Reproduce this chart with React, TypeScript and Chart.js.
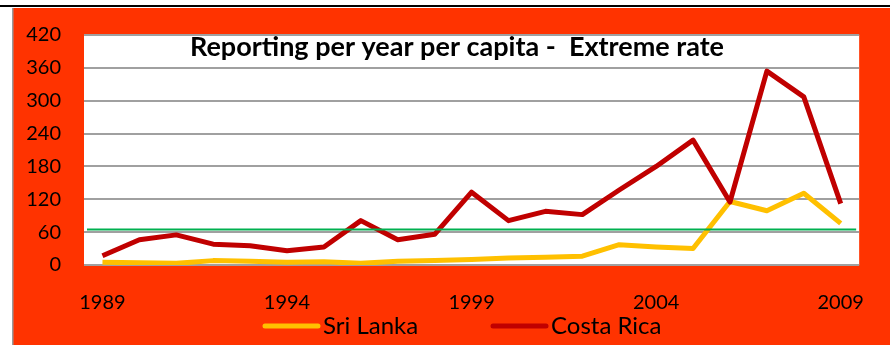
import React, { useEffect, useRef } from "react";
import { Chart, registerables } from "chart.js";

Chart.register(...registerables);

const years: string[] = [
  "1989", "1990", "1991", "1992", "1993", "1994", "1995", "1996", "1997", "1998",
  "1999", "2000", "2001", "2002", "2003", "2004", "2005", "2006", "2007", "2008", "2009",
];
const sriLanka: number[] = [5, 4, 3, 8, 7, 5, 6, 3, 7, 8, 10, 13, 14, 16, 37, 33, 30, 116, 99, 131, 76];
const costaRica: number[] = [17, 46, 55, 38, 35, 26, 33, 81, 46, 56, 133, 81, 98, 92, 137, 180, 228, 115, 354, 307, 112];
const yTicks: number[] = [0, 60, 120, 180, 240, 300, 360, 420];
const thresholdValue = 65;
const titleText = "Reporting per year per capita -  Extreme rate";

const ORANGE = "#FF3300";
const FONT = "Lato, 'Open Sans', sans-serif";

export default function App() {
  const ref = useRef<HTMLCanvasElement | null>(null);

  useEffect(() => {
    document.body.style.margin = "0";
    const canvas = ref.current!;
    const bgPlugin = {
      id: "bg",
      beforeDraw(chart: any) {
        const { ctx, width, height, chartArea } = chart;
        ctx.save();
        ctx.fillStyle = "#FFFFFF";
        ctx.fillRect(0, 0, width, height);
        ctx.fillStyle = "#000000";
        ctx.fillRect(0, 5, width, 2);
        ctx.fillStyle = ORANGE;
        ctx.fillRect(12, 8, width - 12, height - 8);
        ctx.fillStyle = "#9A9A9A";
        ctx.fillRect(12, 8, 1.5, height - 8);
        ctx.fillStyle = "#FFFFFF";
        ctx.fillRect(chartArea.left, chartArea.top, chartArea.right - chartArea.left, chartArea.bottom - chartArea.top);
        ctx.restore();
      },
      afterDatasetsDraw(chart: any) {
        const { ctx, chartArea, scales } = chart;
        const y = scales.y.getPixelForValue(thresholdValue);
        ctx.save();
        ctx.strokeStyle = "#00B050";
        ctx.lineWidth = 2;
        ctx.beginPath();
        ctx.moveTo(chartArea.left + 3, y);
        ctx.lineTo(chartArea.right - 3, y);
        ctx.stroke();
        ctx.restore();
      },
      afterDraw(chart: any) {
        const { ctx } = chart;
        ctx.save();
        ctx.fillStyle = "#000000";
        ctx.font = `bold 27px ${FONT}`;
        ctx.textAlign = "center";
        ctx.textBaseline = "middle";
        ctx.fillText(titleText, 457, 47);
        // legend
        const items = [
          { label: chart.data.datasets[0].label, color: chart.data.datasets[0].borderColor, x: 265 },
          { label: chart.data.datasets[1].label, color: chart.data.datasets[1].borderColor, x: 493 },
        ];
        ctx.font = `24px ${FONT}`;
        ctx.textAlign = "left";
        for (const it of items) {
          ctx.strokeStyle = it.color;
          ctx.lineWidth = 5;
          ctx.lineCap = "round";
          ctx.beginPath();
          ctx.moveTo(it.x, 326);
          ctx.lineTo(it.x + 53, 326);
          ctx.stroke();
          ctx.fillStyle = "#000000";
          ctx.fillText(it.label, it.x + 58, 326);
        }
        ctx.restore();
      },
    };

    const chart = new Chart(canvas, {
      type: "line",
      data: {
        labels: years,
        datasets: [
          {
            label: "Sri Lanka",
            data: sriLanka,
            borderColor: "#FFC000",
            backgroundColor: "#FFC000",
            borderWidth: 5,
            pointRadius: 0,
            tension: 0,
            borderJoinStyle: "round",
            order: 1,
          },
          {
            label: "Costa Rica",
            data: costaRica,
            borderColor: "#C00000",
            backgroundColor: "#C00000",
            borderWidth: 5,
            pointRadius: 0,
            tension: 0,
            borderJoinStyle: "round",
            order: 0,
          },
        ],
      },
      options: {
        responsive: false,
        animation: false,
        layout: { padding: { top: 21, right: 4, left: 0, bottom: 0 } },
        plugins: {
          legend: { display: false },
          title: { display: false },
          tooltip: { enabled: false },
        },
        scales: {
          x: {
            type: "category",
            offset: true,
            grid: { display: false, drawTicks: false },
            border: { display: false },
            ticks: {
              autoSkip: false,
              maxRotation: 0,
              padding: 26,
              color: "#000000",
              font: { family: FONT, size: 20 },
              callback: (_v: any, i: number) => ((i % 5 === 0) ? years[i] : ""),
            },
            afterFit: (s: any) => {
              s.height = 80;
            },
          },
          y: {
            min: 0,
            max: 420,
            afterBuildTicks: (s: any) => {
              s.ticks = yTicks.map((v) => ({ value: v }));
            },
            grid: { color: "#A0A0A0", lineWidth: 2, drawTicks: false },
            border: { display: false },
            ticks: {
              padding: 23,
              color: "#000000",
              font: { family: FONT, size: 20 },
            },
            afterFit: (s: any) => {
              s.width = 84;
            },
          },
        },
      },
      plugins: [bgPlugin],
    } as any);
    return () => chart.destroy();
  }, []);

  return <canvas ref={ref} width={890} height={345} style={{ display: "block" }} />;
}
